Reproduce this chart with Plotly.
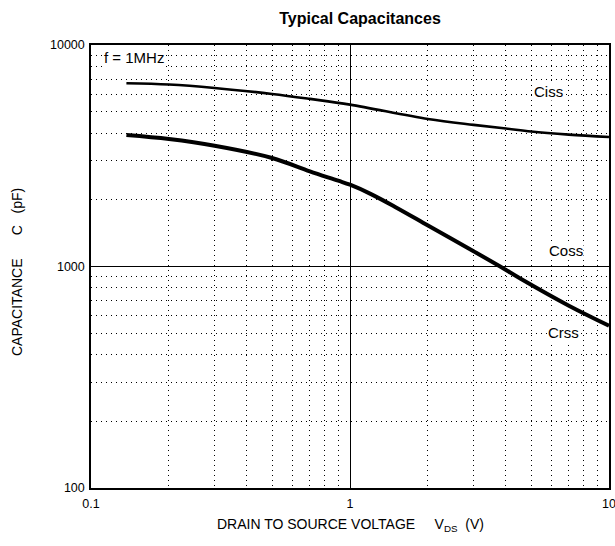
import plotly.graph_objects as go

# Data
vds_iss = [0.137, 0.2, 0.3, 0.5, 0.7, 1.0, 2.0, 3.0, 4.0, 5.0, 7.0, 10.0]
ciss = [6720, 6630, 6400, 6010, 5710, 5380, 4630, 4360, 4200, 4070, 3940, 3840]
vds_rss = [0.137, 0.2, 0.3, 0.5, 0.7, 0.9, 1.0, 1.2, 1.5, 2.0, 3.0, 3.8, 4.56, 7.0, 10.0]
crss = [3920, 3760, 3510, 3090, 2690, 2440, 2340, 2128, 1853, 1532, 1172, 1000, 880, 665, 540]

x_ticks = [0.1, 1, 10]
x_tick_text = ["0.1", "1", "10"]
y_ticks = [100, 1000, 10000]
y_tick_text = ["100", "1000", "10000"]
x_minor = [0.2, 0.3, 0.4, 0.5, 0.6, 0.7, 0.8, 0.9, 2, 3, 4, 5, 6, 7, 8, 9]
y_minor = [200, 300, 400, 500, 600, 700, 800, 900, 2000, 3000, 4000, 5000, 6000, 7000, 8000, 9000]

curve_labels = ["Ciss", "Coss", "Crss"]
label_x = [0.884, 0.917, 0.913]
label_y = [0.895, 0.537, 0.352]

W, H = 615, 546
L, R, T, B = 91, 6, 45, 58
pw, ph = W - L - R, H - T - B

font = dict(family="Arial, Liberation Sans, sans-serif", color="black")

fig = go.Figure()
fig.add_trace(go.Scatter(x=vds_iss, y=ciss, mode="lines",
                         line=dict(color="black", width=2.6, shape="spline", smoothing=1.0),
                         showlegend=False, hoverinfo="skip"))
fig.add_trace(go.Scatter(x=vds_rss, y=crss, mode="lines",
                         line=dict(color="black", width=4, shape="spline", smoothing=1.0),
                         showlegend=False, hoverinfo="skip"))

for text, xx, yy in zip(curve_labels, label_x, label_y):
    fig.add_annotation(x=xx, y=yy, xref="paper", yref="paper", text=text, showarrow=False,
                       xanchor="center", yanchor="middle",
                       font=dict(size=15, **font), bgcolor="white", borderpad=0)

fig.add_annotation(x=(104 - L - 2) / pw, y=(H - B - 57.5) / ph, xref="paper", yref="paper",
                   text="f = 1MHz", showarrow=False, xanchor="left", yanchor="middle",
                   font=dict(size=15, **font), bgcolor="white", borderpad=1)

# axis titles
fig.add_annotation(x=0.5, y=(H - B - 525) / ph, xref="paper", yref="paper", showarrow=False,
                   text="DRAIN TO SOURCE VOLTAGE&nbsp;&nbsp;&nbsp;&nbsp;&nbsp;V<sub>DS</sub>&nbsp;&nbsp;(V)",
                   font=dict(size=14, **font), xanchor="center", yanchor="middle")
fig.add_annotation(x=(17 - L) / pw, y=(H - B - 272) / ph, xref="paper", yref="paper", showarrow=False,
                   text="CAPACITANCE&nbsp;&nbsp;&nbsp;&nbsp;&nbsp;&nbsp;C&nbsp;&nbsp;&nbsp;(pF)", textangle=-90,
                   font=dict(size=14, **font), xanchor="center", yanchor="middle")

fig.update_layout(
    width=W, height=H,
    margin=dict(l=L, r=R, t=T, b=B, autoexpand=False),
    paper_bgcolor="white", plot_bgcolor="white",
    title=dict(text="<b>Typical Capacitances</b>", x=360 / W, xanchor="center", xref="container",
               y=1 - 18 / H, yanchor="middle", yref="container",
               font=dict(size=16, **font)),
    font=dict(size=12.5, **font),
)

fig.update_xaxes(
    type="log", range=[-1, 1], tickvals=x_ticks, ticktext=x_tick_text,
    showgrid=True, gridcolor="black", gridwidth=1,
    showline=True, linecolor="black", linewidth=1.5, mirror=True,
    ticks="", zeroline=False, ticklabelstandoff=3, automargin=False,
    ticklabeloverflow="allow",
    minor=dict(tickvals=x_minor, showgrid=True, gridcolor="black", griddash="1.3px,3.7px", gridwidth=1.3, ticks=""),
    tickfont=dict(size=12.5, **font),
)
fig.update_yaxes(
    type="log", range=[2, 4], tickvals=y_ticks, ticktext=y_tick_text,
    showgrid=True, gridcolor="black", gridwidth=1,
    showline=True, linecolor="black", linewidth=1.5, mirror=True,
    ticks="", zeroline=False, ticklabelstandoff=2, automargin=False,
    ticklabeloverflow="allow",
    minor=dict(tickvals=y_minor, showgrid=True, gridcolor="black", griddash="1.3px,3.7px", gridwidth=1.3, ticks=""),
    tickfont=dict(size=12.5, **font),
)

fig.write_html("out.html", config={"displayModeBar": False, "responsive": False},
               post_script="document.body.style.margin='0';")
